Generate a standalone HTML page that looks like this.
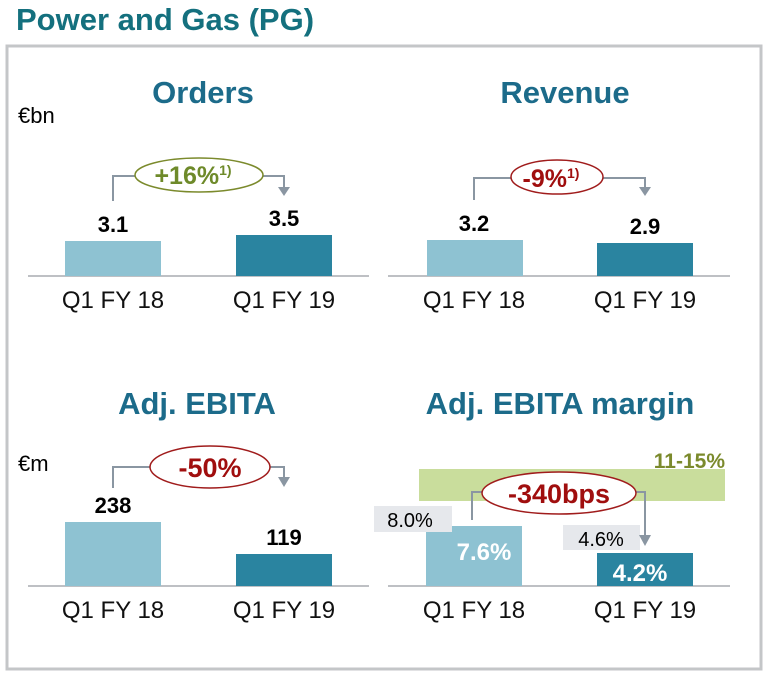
<!DOCTYPE html>
<html><head><style>
body{margin:0;width:768px;height:680px;background:#fff;overflow:hidden;font-family:"Liberation Sans",Arial,sans-serif}
</style></head><body>
<svg width="768" height="680" xmlns="http://www.w3.org/2000/svg" font-family="Liberation Sans, Arial, sans-serif">
<text x="16" y="30" font-size="31" font-weight="bold" fill="#14707e">Power and Gas (PG)</text>
<rect x="7" y="46" width="754" height="623" fill="#fff" stroke="#c4c6c8" stroke-width="3"/>
<g font-size="31" font-weight="bold" fill="#1c6b8a" text-anchor="middle">
<text x="203" y="103">Orders</text><text x="565" y="103">Revenue</text>
<text x="197" y="414">Adj. EBITA</text><text x="560" y="414">Adj. EBITA margin</text>
</g>
<text x="18" y="123" font-size="22">€bn</text>
<text x="18" y="471" font-size="22">€m</text>
<g stroke="#a8acb0" stroke-width="1.5">
<line x1="28" y1="276" x2="369" y2="276"/><line x1="388" y1="276" x2="730" y2="276"/>
<line x1="28" y1="586" x2="369" y2="586"/><line x1="388" y1="586" x2="730" y2="586"/>
</g>
<rect x="65" y="241" width="96" height="35" fill="#8ec2d2"/>
<rect x="236" y="235" width="96" height="41" fill="#2a84a0"/>
<rect x="427" y="240" width="96" height="36" fill="#8ec2d2"/>
<rect x="597" y="243" width="96" height="33" fill="#2a84a0"/>
<rect x="65" y="522" width="96" height="64" fill="#8ec2d2"/>
<rect x="236" y="554" width="96" height="32" fill="#2a84a0"/>
<rect x="419" y="469" width="306" height="32" fill="#c9dd9c"/>
<rect x="426" y="526" width="96" height="60" fill="#8ec2d2"/>
<rect x="597" y="553" width="96" height="33" fill="#2a84a0"/>
<g font-size="22" font-weight="bold" text-anchor="middle" fill="#000">
<text x="113" y="232">3.1</text><text x="284" y="226">3.5</text>
<text x="474" y="231">3.2</text><text x="645" y="234">2.9</text>
<text x="113" y="513">238</text><text x="284" y="545">119</text>
</g>
<g font-size="24" font-weight="bold" text-anchor="middle" fill="#fff">
<text x="484" y="560">7.6%</text><text x="640" y="581">4.2%</text>
</g>
<rect x="374" y="506" width="78" height="26" fill="#e6e8ec"/>
<rect x="563" y="525" width="77" height="25" fill="#e6e8ec"/>
<g font-size="20" text-anchor="middle"><text x="410" y="527">8.0%</text><text x="601" y="546">4.6%</text></g>
<text x="725" y="468" font-size="21" font-weight="bold" fill="#7b8a2c" text-anchor="end">11-15%</text>
<g font-size="24" text-anchor="middle" fill="#111">
<text x="113" y="308">Q1 FY 18</text><text x="284" y="308">Q1 FY 19</text>
<text x="474" y="308">Q1 FY 18</text><text x="645" y="308">Q1 FY 19</text>
<text x="113" y="618">Q1 FY 18</text><text x="284" y="618">Q1 FY 19</text>
<text x="474" y="618">Q1 FY 18</text><text x="645" y="618">Q1 FY 19</text>
</g>
<g stroke="#8a96a2" stroke-width="2" fill="none">
<polyline points="113,201 113,176 140,176"/><polyline points="258,176 284,176 284,188"/>
<polyline points="474,200 474,178 515,178"/><polyline points="600,178 645,178 645,188"/>
<polyline points="113,488 113,467 155,467"/><polyline points="268,467 284,467 284,478"/>
<polyline points="472,520 472,492 485,492"/><polyline points="634,492 645,492 645,536"/>
</g>
<g fill="#8a96a2">
<polygon points="278,187 290,187 284,196"/><polygon points="639,187 651,187 645,196"/>
<polygon points="278,477 290,477 284,487"/><polygon points="639,535 651,535 645,546"/>
</g>
<ellipse cx="199" cy="175" rx="64" ry="17" fill="#fff" stroke="#7b8a2c" stroke-width="1.5"/>
<text x="193" y="184" font-size="25" font-weight="bold" fill="#6e8a2a" text-anchor="middle">+16%<tspan font-size="14" dy="-9">1)</tspan></text>
<ellipse cx="557" cy="177" rx="46" ry="17" fill="#fff" stroke="#a01c1c" stroke-width="1.5"/>
<text x="551" y="187" font-size="25" font-weight="bold" fill="#a00e0e" text-anchor="middle">-9%<tspan font-size="14" dy="-9">1)</tspan></text>
<ellipse cx="210" cy="467" rx="60" ry="21" fill="#fff" stroke="#a01c1c" stroke-width="1.5"/>
<text x="210" y="477" font-size="27" font-weight="bold" fill="#a00e0e" text-anchor="middle">-50%</text>
<ellipse cx="559" cy="493" rx="77" ry="21" fill="#fff" stroke="#a01c1c" stroke-width="1.5"/>
<text x="559" y="503" font-size="27" font-weight="bold" fill="#a00e0e" text-anchor="middle">-340bps</text>
</svg>
</body></html>
